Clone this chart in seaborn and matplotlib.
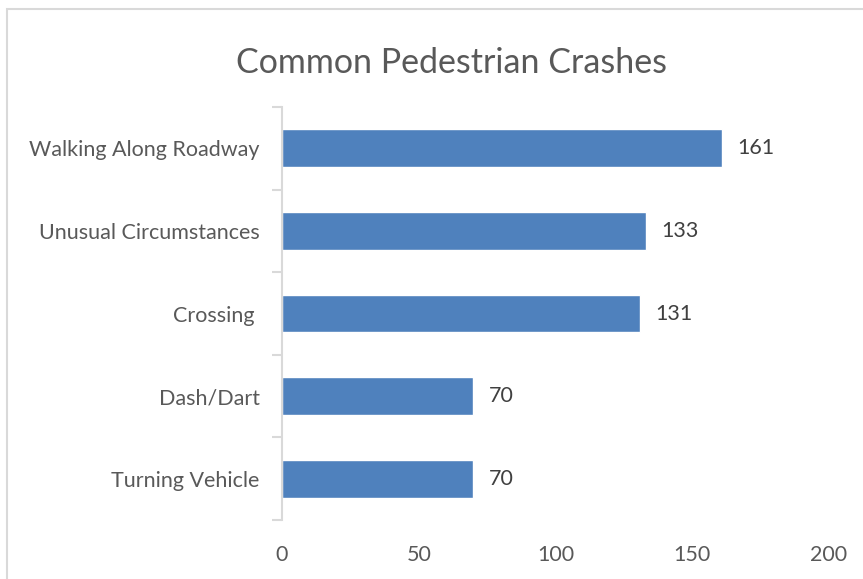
import matplotlib
matplotlib.use("Agg")
import matplotlib.pyplot as plt
from matplotlib.patches import Rectangle
import seaborn as sns
import pandas as pd

categories = ["Walking Along Roadway", "Unusual Circumstances", "Crossing ",
              "Dash/Dart", "Turning Vehicle"]
crashes = [161, 133, 131, 70, 70]
x_ticks = [0, 50, 100, 150, 200]

sns.set_theme(style="white")
plt.rcParams["font.family"] = ["Lato", "DejaVu Sans"]

df = pd.DataFrame({"type": categories, "count": crashes})

W, H, DPI = 863, 579, 100
fig = plt.figure(figsize=(W / DPI, H / DPI), dpi=DPI)
ax = fig.add_axes([282 / W, 1 - 520 / H, (829 - 282) / W, (520 - 107) / H])

sns.barplot(data=df, y="type", x="count", orient="h", color="#4F81BD",
            saturation=1, width=0.46, ax=ax)

for i, v in enumerate(crashes):
    ax.text(v + 5.5, i, f"{v}", va="center", ha="left",
            fontsize=15.5, color="#404040")

ax.set_xlim(0, 200)
ax.set_ylim(4.5, -0.5)
ax.set_xticks(x_ticks)
ax.set_xticklabels([str(t) for t in x_ticks], fontsize=15.5, color="#595959")
ax.tick_params(axis="x", length=0, pad=18)
ax.tick_params(axis="y", which="major", length=0, pad=16, labelsize=15.5,
               labelcolor="#595959")
ax.set_yticks([i - 0.5 for i in range(len(categories) + 1)], minor=True)
ax.tick_params(axis="y", which="minor", length=7, width=1.5, color="#D9D9D9",
               direction="out", left=True)
ax.set_xlabel("")
ax.set_ylabel("")
for side in ["top", "right", "bottom"]:
    ax.spines[side].set_visible(False)
ax.spines["left"].set_color("#D9D9D9")
ax.spines["left"].set_linewidth(1.5)

fig.text(452 / W, 1 - 63 / H, "Common Pedestrian Crashes", ha="center",
         va="center", fontsize=24.5, color="#595959")

# chart area frame
fig.patches.append(Rectangle((7 / W, -0.1), 1.2, 1 - 8.5 / H + 0.1,
                             transform=fig.transFigure, fill=False,
                             edgecolor="#D9D9D9", linewidth=1.5))

fig.savefig("out.png", dpi=DPI)
